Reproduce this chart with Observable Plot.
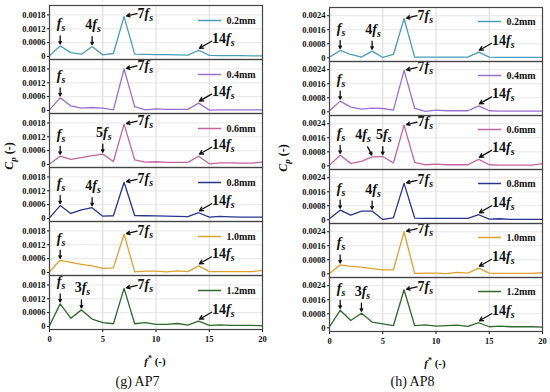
<!DOCTYPE html>
<html>
<head>
<meta charset="utf-8">
<script src="https://cdn.jsdelivr.net/npm/d3@7"></script>
<script src="https://cdn.jsdelivr.net/npm/@observablehq/plot@0.6"></script>
<style>
  body { margin: 0; background: #fff; font-family: "Liberation Serif", serif; }
  #wrap { position: relative; width: 550px; height: 392px; overflow: hidden; }
  .col { position: absolute; top: 0; width: 275px; }
  .col svg text { font-family: "Liberation Serif", serif; }
  .cap { width: 275px; height: 24px; line-height: 24px; text-align: center; font-size: 14px; color: #111; }
  .ylab, .xlab { position: absolute; white-space: nowrap; font-weight: bold; color: #111; line-height: 1; }
  .ylab { font-size: 12px; transform: translate(-50%, -50%) rotate(-90deg); }
  .xlab { font-size: 11px; transform: translate(-50%, -50%); }
  .ylab sub { font-size: 9px; vertical-align: -3px; }
  .xlab sup { font-size: 8px; vertical-align: 4px; }
</style>
</head>
<body>
<div id="wrap">
  <div class="col" id="left"></div>
  <div class="col" id="right" style="left:275px"></div>
  <div class="ylab" style="left:10px; top:156px;"><i>C</i><sub><i>p</i></sub> (-)</div>
  <div class="ylab" style="left:284px; top:158px;"><i>C</i><sub><i>p</i></sub> (-)</div>
  <div class="xlab" style="left:155px; top:361px;"><i>f</i><sup>*</sup> (-)</div>
  <div class="xlab" style="left:435px; top:363px;"><i>f</i><sup>*</sup> (-)</div>
</div>
<script>
// ---------- data ----------
const freq = [0,1,2,3,4,5,6,7,8,9,10,11,12,13,14,15,16,17,18,19,20];
const sizes = ["0.2mm","0.4mm","0.6mm","0.8mm","1.0mm","1.2mm"];
const colors = ["#4a9cbc","#9b70d2","#c465a2","#27358d","#e0a22e","#2e6a2c"];
const xTicks = [0,5,10,15,20];

// AP7 spectra
const ap7_02 = [0.00003,0.00046,0.00017,0.0001,0.00043,0.00007,0.00013,0.00173,0.0001,0.00009,0.00008,0.00008,0.00007,0.00006,0.00027,0.00005,0.00004,0.00004,0.00004,0.00003,0.00003];
const ap7_04 = [0.00003,0.00055,0.0002,0.0001,0.00013,0.0001,0.00003,0.0018,0.00017,0.00003,0.00007,0.00005,0.00005,0.00005,0.00032,0.00002,0.00003,0.00003,0.00003,0.00003,0.00003];
const ap7_06 = [0.00002,0.00036,0.00022,0.0003,0.00038,0.00045,0.00013,0.00175,0.0002,0.0001,0.00012,0.00009,0.00009,0.00009,0.00036,0.00003,0.00007,0.00007,0.00006,0.00006,0.0001];
const ap7_08 = [0.00003,0.00056,0.00022,0.00037,0.00047,0.0001,0.00012,0.00157,0.00013,0.00012,0.00011,0.0001,0.00009,0.00008,0.00025,0.00006,0.00009,0.00007,0.00006,0.00006,0.00006];
const ap7_10 = [0.00003,0.00053,0.00044,0.00035,0.00029,0.00018,0.0002,0.00166,0.00003,0.00006,0.00006,0.00003,0.00007,0.00004,0.00029,0.00004,0.00004,0.00004,0.00004,0.00004,0.00009];
const ap7_12 = [0.00003,0.00098,0.00036,0.00072,0.00032,0.00017,0.00012,0.00165,0.00012,0.00017,0.00009,0.00009,0.00013,0.00006,0.00023,0.00005,0.00007,0.00005,0.00005,0.00005,0.00003];

// AP8 spectra
const ap8_02 = [0.00004,0.00042,0.00019,0.00004,0.00038,0.00002,0.00019,0.00223,0.00004,0.00004,0.00004,0.00004,0.00004,0.00004,0.00032,0.00004,0.00003,0.00003,0.00003,0.00003,0.00003];
const ap8_04 = [0.00006,0.00061,0.00027,0.00015,0.00021,0.00019,0.0001,0.00236,0.00019,0.00002,0.0001,0.00006,0.00006,0.00006,0.00034,0.00006,0.00004,0.00004,0.00004,0.00004,0.00004];
const ap8_06 = [0.00004,0.0006,0.00014,0.00025,0.00051,0.00053,0.00016,0.00232,0.0002,0.00006,0.0001,0.00006,0.00006,0.00006,0.00037,0.00006,0.00004,0.00004,0.00004,0.00004,0.00012];
const ap8_08 = [0.00006,0.00055,0.00027,0.0005,0.0005,0.00002,0.00011,0.00208,0.0001,0.00008,0.00008,0.00008,0.00008,0.00008,0.00029,0.00004,0.00006,0.00002,0.00002,0.00002,0.00002];
const ap8_10 = [0.00002,0.00051,0.00042,0.00038,0.0003,0.00023,0.00023,0.0024,0.00002,0.00004,0.00004,0.00001,0.00008,0.00004,0.00032,0.00004,0.00002,0.00002,0.00002,0.00002,0.00006];
const ap8_12 = [0.00006,0.001,0.00042,0.00083,0.00033,0.00023,0.00012,0.00217,0.00012,0.00017,0.0001,0.00012,0.00015,0.00008,0.00029,0.00006,0.0001,0.00006,0.00006,0.00006,0.00004];

// annotated harmonics (multiples of f_s) per panel
const ap7Harm = [[1,4,7,14],[1,7,14],[1,5,7,14],[1,4,7,14],[1,7,14],[1,3,7,14]];
const ap8Harm = [[1,4,7,14],[1,7,14],[1,4,5,7,14],[1,4,7,14],[1,7,14],[1,3,7,14]];
const ap8Lean = [[],[],[4],[],[],[]];

const ap7Ticks = [0,0.0006,0.0012,0.0018];
const ap8Ticks = [0,0.0008,0.0016,0.0024];
const captions = ["(g) AP7","(h) AP8"];

const SERIF = "'Liberation Serif', 'Times New Roman', serif";

// ---------- chart builder ----------
function makeChart(cfg) {
  const W = 275, H = 370;
  const panelH = (H - cfg.mt - cfg.mb) / sizes.length;
  const pxu = (cfg.yDomain[1] - cfg.yDomain[0]) / panelH;   // data per pixel (y)
  const pxx = 20 / (W - cfg.ml - cfg.mr);                    // data per pixel (x)

  const rows = [];
  sizes.forEach((s, i) => cfg.series[i].forEach((v, j) => rows.push({size: s, x: freq[j], y: v})));

  const legend = sizes.map(s => ({
    size: s,
    y: cfg.yDomain[1] - cfg.legDy * pxu,
    x1: 20 - 64 * pxx, x2: 20 - 41 * pxx, xt: 20 - 36 * pxx
  }));

  const arrows = [], labStart = [], labMid = [];
  sizes.forEach((s, i) => {
    cfg.harm[i].forEach(h => {
      const peak = cfg.series[i][freq.indexOf(h)];
      const text = (h === 1 ? "" : String(h)) + "fs";
      if (h === 7) {
        arrows.push({size: s, x1: h + 13 * pxx, y1: peak + 3 * pxu, x2: h + 2.5 * pxx, y2: peak + 0.6 * pxu});
        labStart.push({size: s, x: h + 13.5 * pxx, y: peak + 3.5 * pxu, text});
      } else if (h === 14) {
        arrows.push({size: s, x1: h + 13 * pxx, y1: peak + 9 * pxu, x2: h + 0.8 * pxx, y2: peak + 2 * pxu});
        labStart.push({size: s, x: h + 13.5 * pxx, y: peak + 12 * pxu, text});
      } else if (cfg.lean && cfg.lean[i].includes(h)) {
        arrows.push({size: s, x1: h - 4.5 * pxx, y1: peak + 10 * pxu, x2: h - 0.3 * pxx, y2: peak + 2 * pxu});
        labMid.push({size: s, x: h - 9 * pxx, y: peak + 22 * pxu, text});
      } else {
        arrows.push({size: s, x1: h, y1: peak + 10 * pxu, x2: h, y2: peak + 2 * pxu});
        labMid.push({size: s, x: h + 1 * pxx, y: peak + 22 * pxu, text});
      }
    });
  });

  const annStyle = {x: "x", y: "y", text: "text", fy: "size", fontSize: 14, fontWeight: "bold", fontFamily: SERIF, fill: "#111"};
  const svg = Plot.plot({
    width: W, height: H,
    marginLeft: cfg.ml, marginRight: cfg.mr, marginTop: cfg.mt, marginBottom: cfg.mb,
    style: "font-family: 'Liberation Serif', serif; font-weight: bold; font-size: 8.5px; background: white; color: #111;",
    x: {domain: [0, 20], ticks: xTicks, tickSize: 3, tickPadding: 3, label: null},
    y: {domain: cfg.yDomain, ticks: cfg.yTicks, tickFormat: d => d === 0 ? "0" : d.toFixed(4), tickSize: 2, tickPadding: 2, label: null},
    fy: {domain: sizes, padding: 0, axis: null, label: null},
    color: {domain: sizes, range: colors},
    marks: [
      Plot.gridX([5, 10, 15], {stroke: "#cfcfcf", strokeOpacity: 1, strokeWidth: 0.8}),
      Plot.gridY(cfg.yTicks.slice(1), {stroke: "#e2e2e2", strokeOpacity: 1, strokeWidth: 0.8}),
      Plot.line(rows, {x: "x", y: "y", fy: "size", stroke: "size", strokeWidth: 1.3}),
      Plot.ruleY(legend, {y: "y", x1: "x1", x2: "x2", fy: "size", stroke: "size", strokeWidth: 1.5}),
      Plot.text(legend, {x: "xt", y: "y", text: "size", fy: "size", textAnchor: "start", fontSize: 10, fontWeight: "bold", fontFamily: SERIF, fill: "#111"}),
      Plot.arrow(arrows, {x1: "x1", y1: "y1", x2: "x2", y2: "y2", fy: "size", stroke: "#111", strokeWidth: 1.3, headLength: 5, headAngle: 55}),
      Plot.text(labStart, {...annStyle, textAnchor: "start"}),
      Plot.text(labMid, {...annStyle, textAnchor: "middle"}),
      Plot.frame({stroke: "#444", strokeWidth: 1.2})
    ]
  });

  // rich text for harmonic labels: n f_s (number upright, f italic, s italic subscript)
  const ns = "http://www.w3.org/2000/svg";
  svg.querySelectorAll("text").forEach(t => {
    const s = t.textContent;
    if (!/^\d*fs$/.test(s)) return;
    t.textContent = s.slice(0, -2);
    const f = document.createElementNS(ns, "tspan");
    f.setAttribute("font-style", "italic");
    f.textContent = "f";
    const sub = document.createElementNS(ns, "tspan");
    sub.setAttribute("font-style", "italic");
    sub.setAttribute("font-size", "10");
    sub.setAttribute("dy", "3");
    sub.textContent = "s";
    t.append(f, sub);
  });
  return svg;
}

const left = makeChart({
  series: [ap7_02, ap7_04, ap7_06, ap7_08, ap7_10, ap7_12],
  harm: ap7Harm, yTicks: ap7Ticks, yDomain: [-0.00013, 0.00221],
  ml: 49, mr: 13, mt: 5, mb: 41, legDy: 15
});
const right = makeChart({
  series: [ap8_02, ap8_04, ap8_06, ap8_08, ap8_10, ap8_12],
  harm: ap8Harm, lean: ap8Lean, yTicks: ap8Ticks, yDomain: [-0.00021, 0.00287],
  ml: 54, mr: 8, mt: 7, mb: 39, legDy: 14
});

[[left, "left", 0], [right, "right", 1]].forEach(([svg, id, k]) => {
  const el = document.getElementById(id);
  el.append(svg);
  const cap = document.createElement("div");
  cap.className = "cap";
  cap.textContent = captions[k];
  el.append(cap);
});
</script>
</body>
</html>
